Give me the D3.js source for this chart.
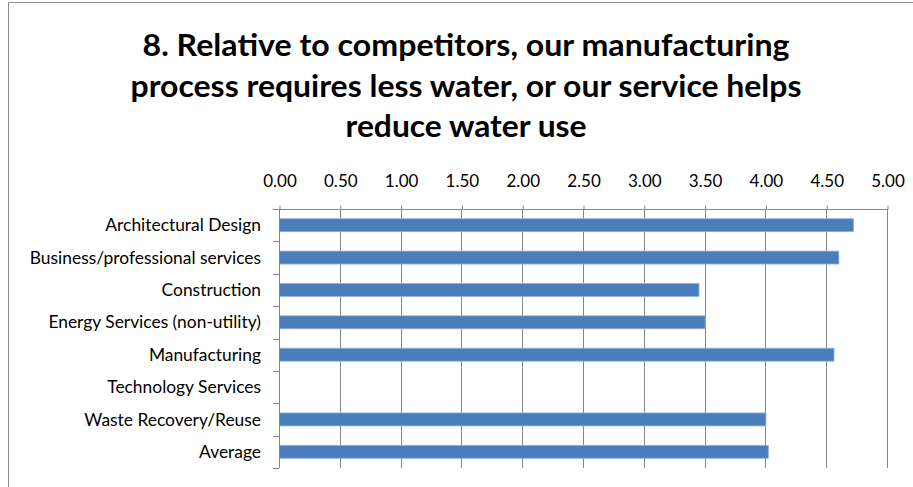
<!DOCTYPE html>
<html>
<head>
<meta charset="utf-8">
<script src="https://cdn.jsdelivr.net/npm/d3@7"></script>
<style>
  html, body { margin: 0; padding: 0; background: #fff; }
  svg { display: block; }
</style>
</head>
<body>
<svg id="chart" width="913" height="487"></svg>
<script>
// Mean agreement score by industry sector
const categories = [
  "Architectural Design",
  "Business/professional services",
  "Construction",
  "Energy Services (non-utility)",
  "Manufacturing",
  "Technology Services",
  "Waste Recovery/Reuse",
  "Average"
];
const values = [4.72, 4.60, 3.45, 3.50, 4.56, 0, 4.00, 4.02];
const tickValues = [0, 0.5, 1, 1.5, 2, 2.5, 3, 3.5, 4, 4.5, 5];
const titleLines = [
  "8. Relative to competitors, our manufacturing",
  "process requires less water, or our service helps",
  "reduce water use"
];

const svg = d3.select("#chart");
const W = 913, H = 487;
const plot = { left: 279, right: 887, top: 209, bottom: 468 };
const gridColor = "#868686";
const font = "Lato, 'Open Sans', sans-serif";

// outer chart frame (top and left edges visible)
svg.append("path")
  .attr("d", `M8.5,${H} V2.5 H${W}`)
  .attr("fill", "none")
  .attr("stroke", "#8c8c8c")
  .attr("stroke-width", 1);

// title
const titleWidths = [647, 671, 241];
const titleBaselines = [56, 97, 137];
svg.append("g").selectAll("text")
  .data(titleLines)
  .join("text")
  .attr("x", 466)
  .attr("y", (d, i) => titleBaselines[i])
  .attr("text-anchor", "middle")
  .attr("font-family", font)
  .attr("font-weight", "bold")
  .attr("font-size", 31)
  .attr("fill", "#000")
  .attr("textLength", (d, i) => titleWidths[i])
  .attr("lengthAdjust", "spacingAndGlyphs")
  .text(d => d);

const x = d3.scaleLinear().domain([0, 5]).range([plot.left, plot.right]);
const y = d3.scaleBand().domain(categories).range([plot.top, plot.bottom])
  .paddingInner(0.6).paddingOuter(0.3);
const yEdges = d3.scaleBand().domain(categories).range([plot.top, plot.bottom]);

// vertical gridlines
svg.append("g").selectAll("line")
  .data(tickValues.slice(1))
  .join("line")
  .attr("x1", d => Math.round(x(d)) + 0.5)
  .attr("x2", d => Math.round(x(d)) + 0.5)
  .attr("y1", plot.top)
  .attr("y2", plot.bottom)
  .attr("stroke", gridColor)
  .attr("stroke-width", 1);

// top value axis
const xAxis = d3.axisTop(x)
  .tickValues(tickValues)
  .tickSize(4)
  .tickPadding(19)
  .tickFormat(d3.format(".2f"));
const gx = svg.append("g")
  .attr("transform", `translate(0.5,${plot.top + 0.5})`)
  .call(xAxis);
gx.select(".domain").remove();
gx.append("line")
  .attr("x1", plot.left - 7).attr("x2", plot.right)
  .attr("stroke", gridColor);
gx.selectAll(".tick line").attr("stroke", gridColor);
gx.selectAll(".tick text")
  .attr("font-family", font)
  .attr("font-size", 17)
  .attr("fill", "#000");

// bars
svg.append("g").selectAll("rect")
  .data(values)
  .join("rect")
  .attr("x", plot.left + 0.5)
  .attr("y", (d, i) => y(categories[i]))
  .attr("width", d => Math.max(0, x(d) - x(0)))
  .attr("height", y.bandwidth())
  .attr("fill", d => d > 0 ? "#4a7ebb" : "none")
  .attr("stroke", d => d > 0 ? "#8fb1da" : "none")
  .attr("stroke-width", 0.8);

// category axis
const gy = svg.append("g");
gy.append("line")
  .attr("x1", plot.left + 0.5).attr("x2", plot.left + 0.5)
  .attr("y1", plot.top).attr("y2", plot.bottom)
  .attr("stroke", gridColor);
gy.selectAll("line.cat-tick")
  .data(categories.map(c => yEdges(c) + yEdges.bandwidth()))
  .join("line")
  .attr("class", "cat-tick")
  .attr("x1", plot.left - 6).attr("x2", plot.left)
  .attr("y1", d => Math.round(d) + 0.5).attr("y2", d => Math.round(d) + 0.5)
  .attr("stroke", gridColor);
gy.selectAll("text")
  .data(categories)
  .join("text")
  .attr("x", 261)
  .attr("y", d => yEdges(d) + yEdges.bandwidth() / 2)
  .attr("dy", "0.35em")
  .attr("text-anchor", "end")
  .attr("font-family", font)
  .attr("font-size", 17.4)
  .attr("fill", "#000")
  .text(d => d);
</script>
</body>
</html>
